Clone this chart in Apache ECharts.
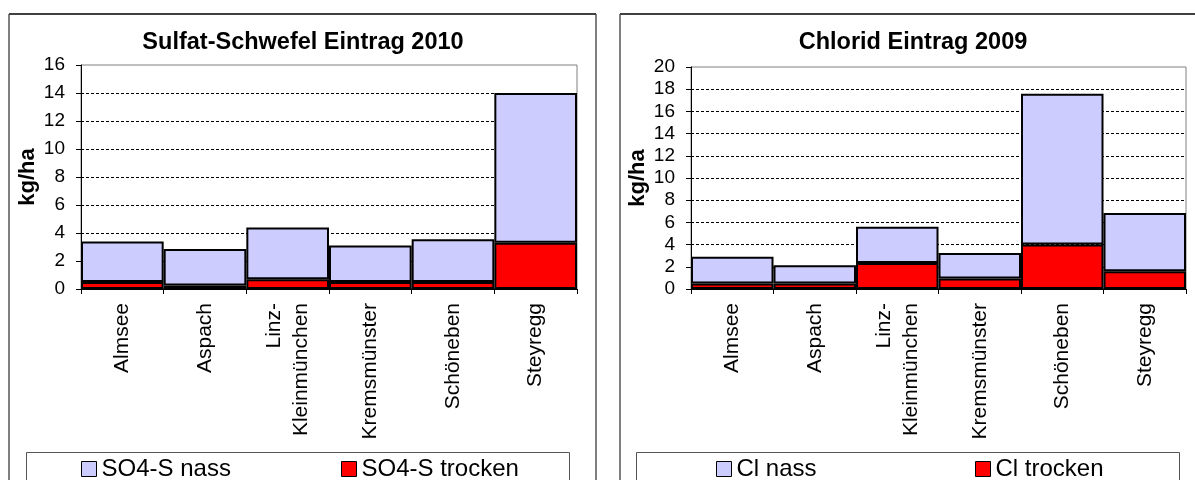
<html style="height: 100%">
<meta http-equiv=Content-Type content="text/html;charset=utf-8" />
<script type="text/javascript" src="https://cdn.jsdelivr.net/npm/echarts@6/dist/echarts.min.js"></script>
<body style="height: 100%; margin: 0; background: #fff">
<div id="echart" style="width: 1195px; height: 480px"></div>
<script type="text/javascript">
	// Stationen (gleich fuer beide Diagramme)
	var stationen = ["Almsee", "Aspach", "Linz-\nKleinmünchen", "Kremsmünster", "Schöneben", "Steyregg"];

	// Sulfat-Schwefel 2010, kg/ha
	var so4Trocken = [0.5, 0.25, 0.7, 0.5, 0.5, 3.3];
	var so4Nass = [2.9, 2.6, 3.7, 2.6, 3.05, 10.7];

	// Chlorid 2009, kg/ha
	var clTrocken = [0.5, 0.5, 2.35, 0.95, 4.0, 1.6];
	var clNass = [2.4, 1.65, 3.25, 2.3, 13.6, 5.25];

	var farbeNass = "#CCCCFF";
	var farbeTrocken = "#FF0000";
	var schrift = "Liberation Sans, Arial, sans-serif";

	function xAchse(idx) {
		return {
			type: 'category', gridIndex: idx, data: stationen,
			axisLine: {lineStyle: {color: '#000', width: 1}},
			axisTick: {show: true, length: 5, lineStyle: {color: '#000'}},
			axisLabel: {rotate: 90, interval: 0, margin: 14, color: '#000', fontSize: 21, fontFamily: schrift, lineHeight: 27}
		};
	}

	function yAchse(idx, max) {
		return {
			type: 'value', gridIndex: idx, min: 0, max: max, interval: 2,
			name: 'kg/ha', nameLocation: 'middle', nameGap: 42, nameRotate: 90,
			nameTextStyle: {fontSize: 22, fontWeight: 'bold', color: '#000', fontFamily: schrift},
			axisLine: {show: true, lineStyle: {color: '#000', width: 1}},
			axisTick: {show: true, length: 5, lineStyle: {color: '#000'}},
			axisLabel: {color: '#000', fontSize: 19, fontFamily: schrift, margin: 16},
			splitLine: {show: true, showMinLine: false, showMaxLine: false, lineStyle: {color: '#000', type: [3, 2], width: 1}}
		};
	}

	function serie(name, data, farbe, idx) {
		return {
			name: name, type: 'bar', stack: 'st' + idx, xAxisIndex: idx, yAxisIndex: idx,
			data: data, barWidth: '100%', barCategoryGap: 0,
			itemStyle: {color: farbe, borderColor: '#000', borderWidth: 2},
			emphasis: {disabled: true}
		};
	}

	function legende(name, links) {
		return {
			data: [name], left: links, top: 457, padding: 0, itemWidth: 15, itemHeight: 15,
			icon: 'rect',
			itemStyle: {borderColor: '#000', borderWidth: 1},
			textStyle: {fontSize: 24, color: '#000', fontFamily: schrift}
		};
	}

	var myChart = echarts.init(document.getElementById('echart'));

	myChart.setOption({
		animation: false,
		backgroundColor: '#fff',
		title: [
			{text: 'Sulfat-Schwefel Eintrag 2010', left: 303, top: 31, textAlign: 'center', padding: 0,
				textStyle: {fontSize: 23.5, fontWeight: 'bold', color: '#000', fontFamily: schrift}},
			{text: 'Chlorid Eintrag 2009', left: 913, top: 31, textAlign: 'center', padding: 0,
				textStyle: {fontSize: 23.5, fontWeight: 'bold', color: '#000', fontFamily: schrift}}
		],
		grid: [
			{left: 81, top: 65, width: 496, height: 224, show: true, borderColor: '#808080', borderWidth: 1, backgroundColor: '#fff'},
			{left: 691, top: 67, width: 495, height: 222, show: true, borderColor: '#808080', borderWidth: 1, backgroundColor: '#fff'}
		],
		xAxis: [xAchse(0), xAchse(1)],
		yAxis: [yAchse(0, 16), yAchse(1, 20)],
		legend: [
			legende('SO4-S nass', 81),
			legende('SO4-S trocken', 341),
			legende('Cl nass', 716),
			legende('Cl trocken', 975)
		],
		graphic: [
			{type: 'rect', shape: {x: 9, y: 14, width: 587, height: 480}, style: {fill: null, stroke: '#000', lineWidth: 1}, z: -1},
			{type: 'line', shape: {x1: 9, y1: 14, x2: 596, y2: 14}, style: {stroke: '#404040', lineWidth: 2}, z: -1},
			{type: 'rect', shape: {x: 620, y: 14, width: 600, height: 480}, style: {fill: null, stroke: '#000', lineWidth: 1}, z: -1},
			{type: 'line', shape: {x1: 620, y1: 14, x2: 1195, y2: 14}, style: {stroke: '#404040', lineWidth: 2}, z: -1},
			{type: 'rect', shape: {x: 26.5, y: 452.5, width: 543, height: 60}, style: {fill: null, stroke: '#555', lineWidth: 1}},
			{type: 'rect', shape: {x: 636.5, y: 452.5, width: 543, height: 60}, style: {fill: null, stroke: '#555', lineWidth: 1}}
		],
		series: [
			serie('SO4-S trocken', so4Trocken, farbeTrocken, 0),
			serie('SO4-S nass', so4Nass, farbeNass, 0),
			serie('Cl trocken', clTrocken, farbeTrocken, 1),
			serie('Cl nass', clNass, farbeNass, 1)
		]
	});
</script>
</body>
</html>
